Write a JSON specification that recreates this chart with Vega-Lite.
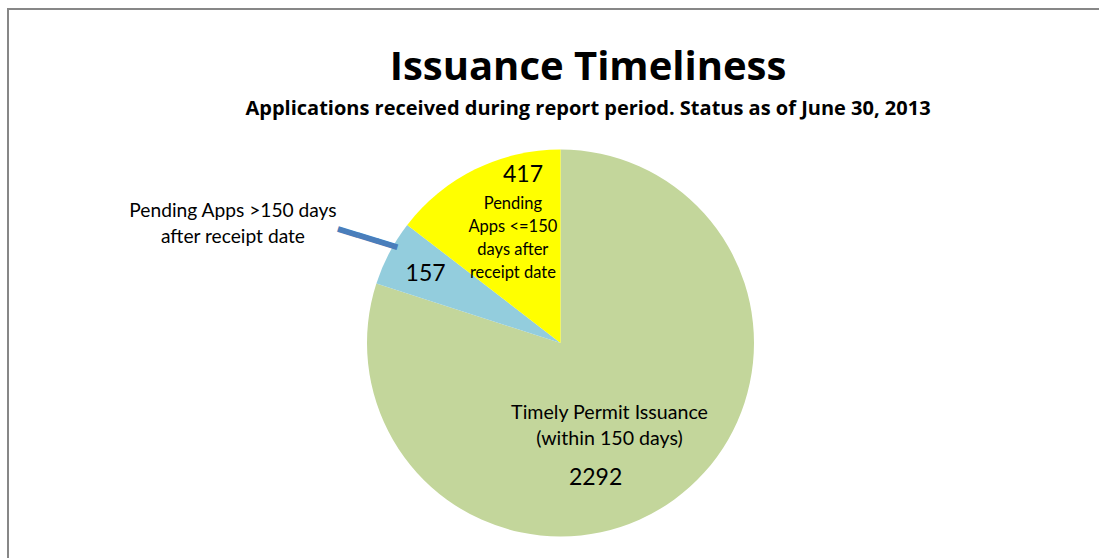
{
  "$schema": "https://vega.github.io/schema/vega-lite/v6.json",
  "width": 1105,
  "height": 668,
  "autosize": "none",
  "padding": {"left": 8, "top": 9, "right": 0, "bottom": 0},
  "background": "white",
  "title": {
    "text": "Issuance Timeliness",
    "subtitle": "Applications received during report period. Status as of June 30, 2013",
    "anchor": "middle",
    "frame": "group",
    "dx": 27.5,
    "offset": -111,
    "font": "Open Sans",
    "fontSize": 40,
    "fontWeight": "bold",
    "color": "black",
    "subtitleFont": "Open Sans",
    "subtitleFontSize": 20,
    "subtitleFontWeight": "bold",
    "subtitleColor": "black",
    "subtitlePadding": 11
  },
  "config": {"view": {"stroke": null}, "text": {"font": "Lato", "color": "black"}},
  "data": {
    "values": [
      {"category": "Timely Permit Issuance", "count": 2292, "label": "Timely Permit Issuance\n(within 150 days)"},
      {"category": "Pending Apps >150 days", "count": 157, "label": "Pending Apps >150 days\nafter receipt date"},
      {"category": "Pending Apps <=150 days", "count": 417, "label": "Pending\nApps <=150\ndays after\nreceipt date"}
    ]
  },
  "layer": [
    {
      "data": {"values": [{"frame": "chart area"}]},
      "mark": {"type": "rect", "fill": null, "stroke": "#878787", "strokeWidth": 2},
      "encoding": {}
    },
    {
      "encoding": {
        "theta": {"field": "count", "type": "quantitative", "stack": true},
        "order": {"field": "category", "type": "ordinal", "sort": "descending"}
      },
      "layer": [
        {
          "mark": {"type": "arc", "outerRadius": 193.5},
          "encoding": {
            "color": {
              "field": "category",
              "type": "nominal",
              "scale": {
                "domain": ["Timely Permit Issuance", "Pending Apps >150 days", "Pending Apps <=150 days"],
                "range": ["#C3D69B", "#93CDDD", "#FFFF00"]
              },
              "legend": null
            }
          }
        },
        {
          "mark": {"type": "text", "radius": 187, "dx": 45, "fontSize": 23, "align": "center", "baseline": "middle"},
          "encoding": {"text": {"condition": {"test": "datum.category === 'Pending Apps <=150 days'", "field": "count", "type": "nominal"}, "value": ""}}
        },
        {
          "mark": {"type": "text", "radius": 117, "dx": 4, "dy": -34.5, "fontSize": 16.5, "lineHeight": 23, "lineBreak": "\n", "align": "center", "baseline": "middle"},
          "encoding": {"text": {"condition": {"test": "datum.category === 'Pending Apps <=150 days'", "field": "label", "type": "nominal"}, "value": ""}}
        },
        {
          "mark": {"type": "text", "radius": 152.5, "dy": 2, "fontSize": 23, "align": "center", "baseline": "middle"},
          "encoding": {"text": {"condition": {"test": "datum.category === 'Pending Apps >150 days'", "field": "count", "type": "nominal"}, "value": ""}}
        },
        {
          "mark": {"type": "text", "radius": 256, "dx": -101, "dy": -12.5, "fontSize": 19.2, "lineHeight": 26, "lineBreak": "\n", "align": "center", "baseline": "middle"},
          "encoding": {"text": {"condition": {"test": "datum.category === 'Pending Apps >150 days'", "field": "label", "type": "nominal"}, "value": ""}}
        },
        {
          "mark": {"type": "text", "radius": 226.6, "dx": 7.5, "angle": 17.2, "font": "DejaVu Sans", "fontSize": 34, "color": "#4A7EBB", "align": "center", "baseline": "middle"},
          "encoding": {"text": {"condition": {"test": "datum.category === 'Pending Apps >150 days'", "value": "━━━"}, "value": ""}}
        },
        {
          "mark": {"type": "text", "radius": 102, "dx": -11, "dy": -12, "fontSize": 19.6, "lineHeight": 25.6, "lineBreak": "\n", "align": "center", "baseline": "middle"},
          "encoding": {"text": {"condition": {"test": "datum.category === 'Timely Permit Issuance'", "field": "label", "type": "nominal"}, "value": ""}}
        },
        {
          "mark": {"type": "text", "radius": 165, "dx": -62, "dy": 1.5, "fontSize": 23, "align": "center", "baseline": "middle"},
          "encoding": {"text": {"condition": {"test": "datum.category === 'Timely Permit Issuance'", "field": "count", "type": "nominal"}, "value": ""}}
        }
      ]
    }
  ]
}
